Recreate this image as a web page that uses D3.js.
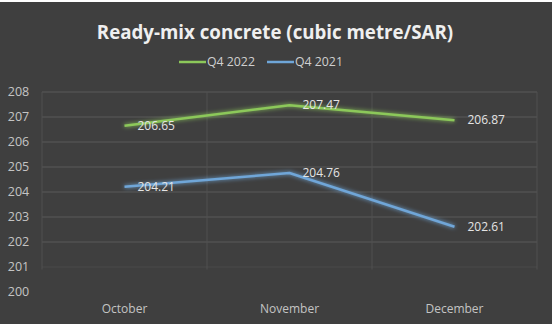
<!DOCTYPE html>
<html><head><meta charset="utf-8">
<script src="https://cdn.jsdelivr.net/npm/d3@7"></script>
<style>html,body{margin:0;padding:0;background:#fff;}svg{display:block;}</style>
</head><body>
<svg id="c" width="555" height="324"></svg>
<script>
const categories = ["October", "November", "December"];
const seriesNames = ["Q4 2022", "Q4 2021"];
const q42022 = [206.65, 207.47, 206.87];
const q42021 = [204.21, 204.76, 202.61];
const yTicks = [200, 201, 202, 203, 204, 205, 206, 207, 208];
const colors = ["#8cc85a", "#6fa6d8"];

(function () {
const W = 555, H = 324;
const svg = d3.select("#c");
const font = "'Open Sans', 'Noto Sans', sans-serif";

// background
svg.append("rect").attr("x", 0).attr("y", 0).attr("width", W).attr("height", H).attr("fill", "#ffffff");
svg.append("rect").attr("x", 0).attr("y", 2).attr("width", 552).attr("height", H - 2).attr("fill", "#3f3f3f");

const defs = svg.append("defs");
const f = defs.append("filter").attr("id", "glow").attr("x", "-20%").attr("y", "-50%").attr("width", "140%").attr("height", "200%");
f.append("feGaussianBlur").attr("stdDeviation", 2.2).attr("result", "b");
const m = f.append("feMerge");
m.append("feMergeNode").attr("in", "b");
m.append("feMergeNode").attr("in", "SourceGraphic");

const pL = 42, pR = 537, pT = 92, pB = 292;
const x = d3.scaleBand().domain(categories).range([pL, pR]);
const y = d3.scaleLinear().domain([200, 208]).range([pB, pT]);

// gridlines
const g = svg.append("g");
g.selectAll("line.h").data(yTicks.filter(t => t > 200)).join("line")
  .attr("x1", pL).attr("x2", pR)
  .attr("y1", d => y(d)).attr("y2", d => y(d))
  .attr("stroke", d => d >= 202 ? "#5a5a5a" : "#4a4a4a").attr("stroke-width", 1);
const vb = [pL, ...categories.map(c => x(c) + x.bandwidth())];
g.selectAll("line.v").data(vb).join("line")
  .attr("x1", d => d).attr("x2", d => d)
  .attr("y1", pT).attr("y2", y(200.9))
  .attr("stroke", "#505050").attr("stroke-width", 1);

// y axis labels
svg.append("g").selectAll("text").data(yTicks).join("text")
  .attr("x", 18.5).attr("y", d => y(d)).attr("dy", "0.35em")
  .attr("text-anchor", "middle").attr("font-family", font).attr("font-size", 12.5)
  .attr("fill", "#c4c4c4").text(d => d);

// x axis labels
svg.append("g").selectAll("text").data(categories).join("text")
  .attr("x", d => x(d) + x.bandwidth() / 2).attr("y", 313)
  .attr("text-anchor", "middle").attr("font-family", font).attr("font-size", 12)
  .attr("fill", "#c4c4c4").text(d => d);

// lines
const series = [q42022, q42021];
const line = d3.line().x((d, i) => x(categories[i]) + x.bandwidth() / 2).y(d => y(d));
series.forEach((s, k) => {
  svg.append("path").datum(s).attr("d", line).attr("fill", "none")
    .attr("stroke", colors[k]).attr("stroke-width", 2.5).attr("stroke-linejoin", "round")
    .attr("filter", "url(#glow)");
});
// data labels
series.forEach((s, k) => {
  svg.append("g").selectAll("text").data(s).join("text")
    .attr("x", (d, i) => x(categories[i]) + x.bandwidth() / 2 + 13)
    .attr("y", d => y(d)).attr("dy", "0.35em")
    .attr("font-family", font).attr("font-size", 12)
    .attr("fill", "#e4e4e4").text(d => d.toFixed(2));
});

// title
svg.append("text").attr("x", 275).attr("y", 39).attr("text-anchor", "middle")
  .attr("font-family", font).attr("font-weight", "bold").attr("font-size", 18.7)
  .attr("fill", "#efefef").text("Ready-mix concrete (cubic metre/SAR)");

// legend
const lg = svg.append("g");
const legX = [179, 267];
seriesNames.forEach((n, k) => {
  lg.append("line").attr("x1", legX[k]).attr("x2", legX[k] + 27).attr("y1", 62).attr("y2", 62)
    .attr("stroke", colors[k]).attr("stroke-width", 2.5);
  lg.append("text").attr("x", legX[k] + 28).attr("y", 62).attr("dy", "0.35em")
    .attr("font-family", font).attr("font-size", 12.3).attr("fill", "#d0d0d0").text(n);
});
})();
</script>
</body></html>
